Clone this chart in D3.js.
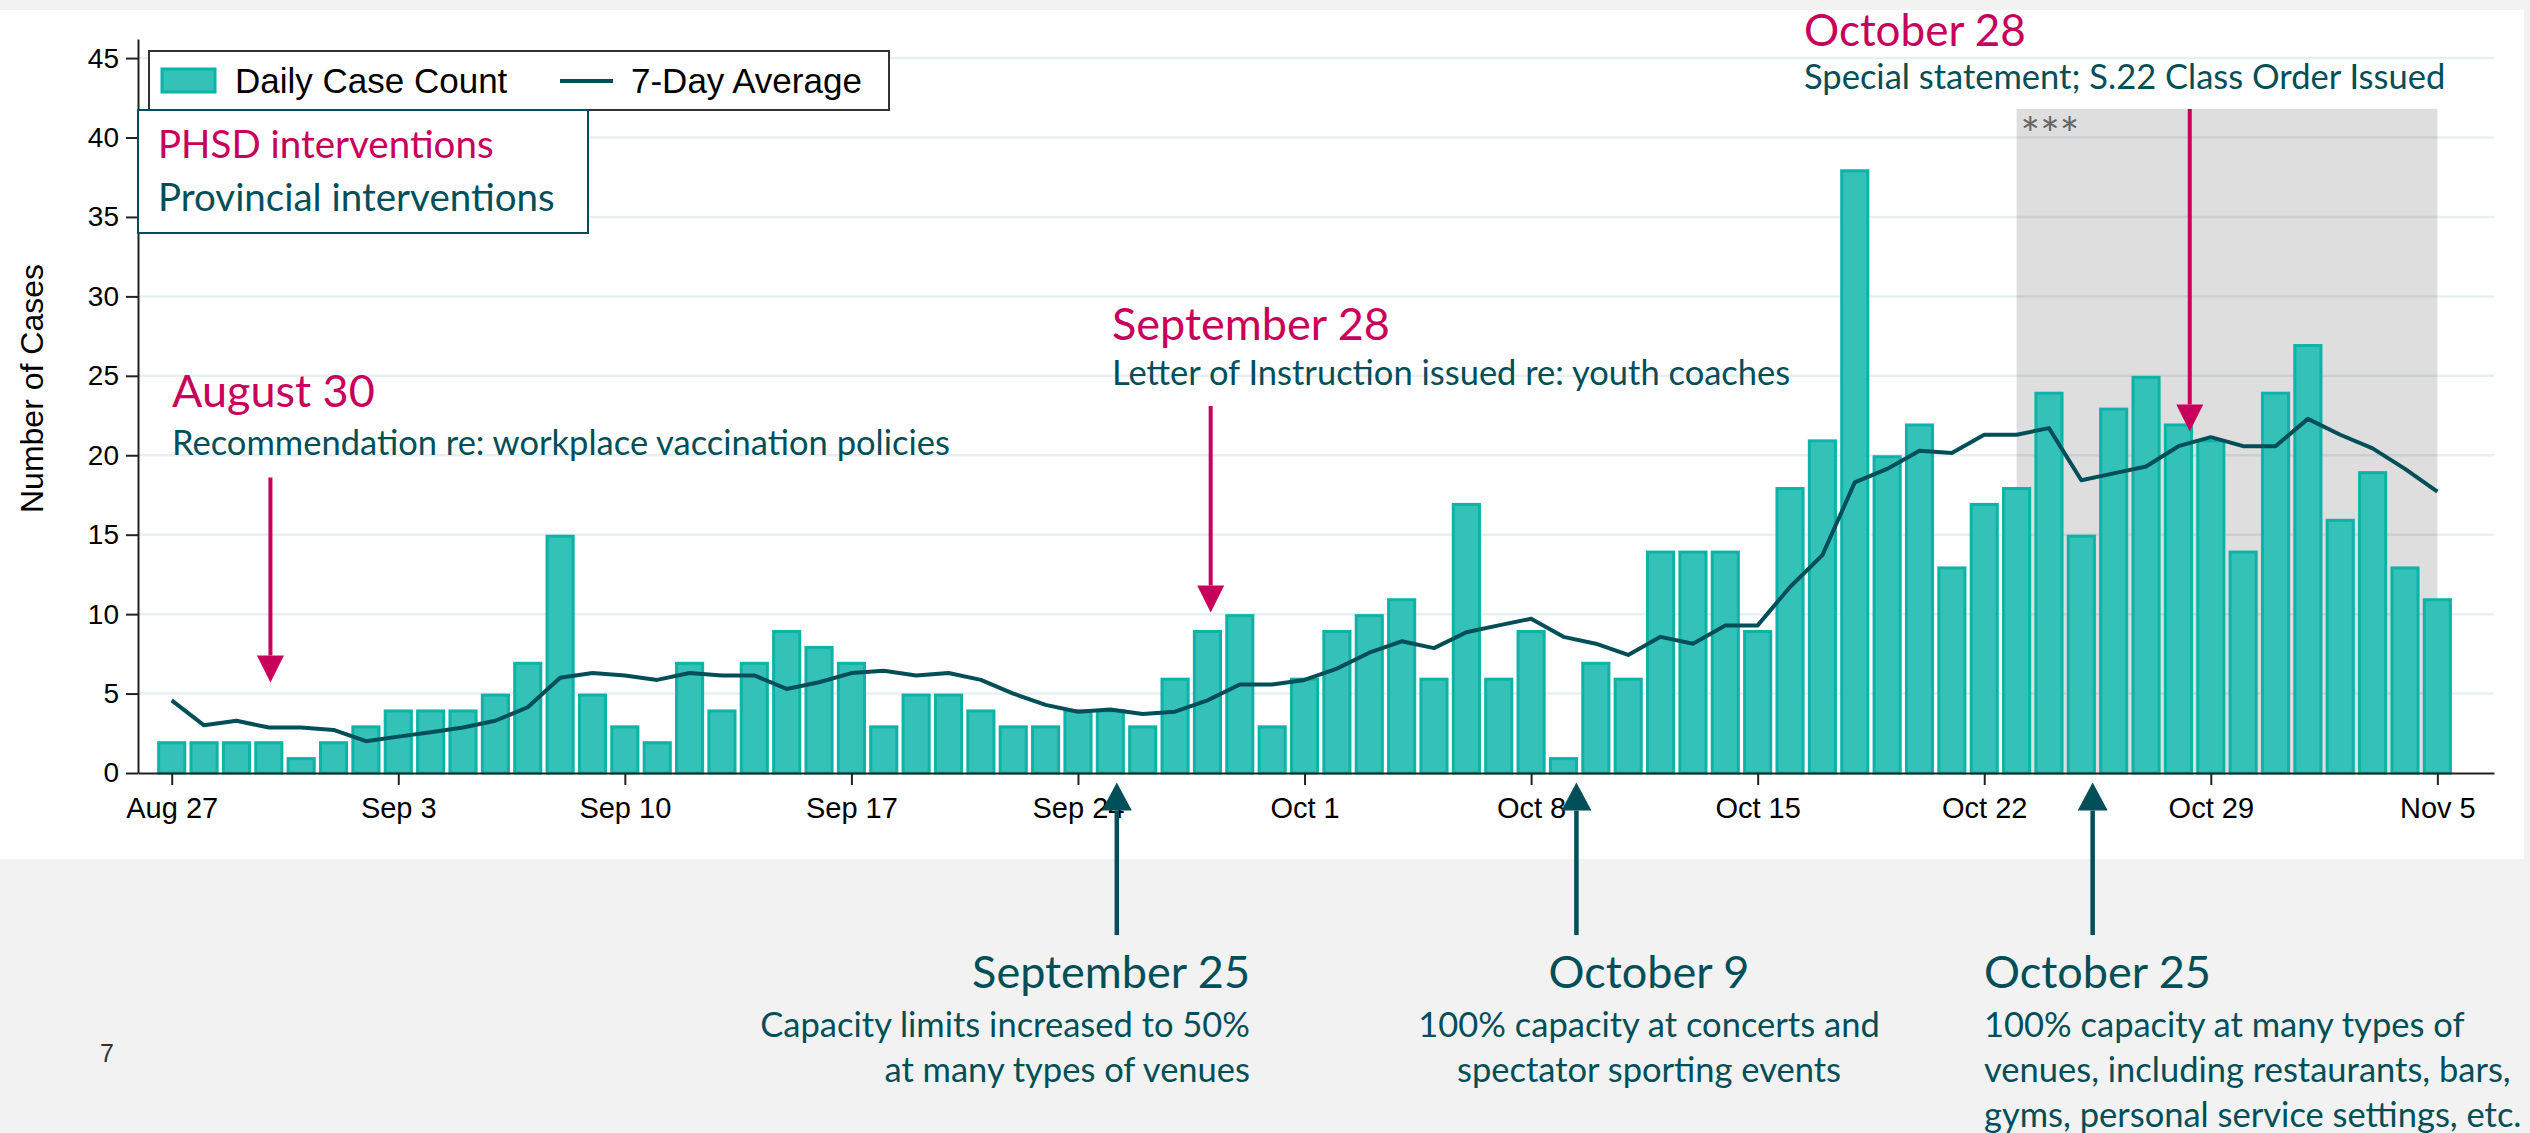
<!DOCTYPE html>
<html lang="en">
<head>
<meta charset="utf-8">
<title>Daily Case Count and 7-Day Average</title>
<script src="https://d3js.org/d3.v7.min.js"></script>
<style>
  body { margin: 0; background: #f2f2f2; }
  svg { display: block; }
</style>
</head>
<body>
<script>
// daily cases, Aug 27 to Nov 5
var days = [
  "2021-08-27","2021-08-28","2021-08-29","2021-08-30","2021-08-31","2021-09-01","2021-09-02",
  "2021-09-03","2021-09-04","2021-09-05","2021-09-06","2021-09-07","2021-09-08","2021-09-09",
  "2021-09-10","2021-09-11","2021-09-12","2021-09-13","2021-09-14","2021-09-15","2021-09-16",
  "2021-09-17","2021-09-18","2021-09-19","2021-09-20","2021-09-21","2021-09-22","2021-09-23",
  "2021-09-24","2021-09-25","2021-09-26","2021-09-27","2021-09-28","2021-09-29","2021-09-30",
  "2021-10-01","2021-10-02","2021-10-03","2021-10-04","2021-10-05","2021-10-06","2021-10-07",
  "2021-10-08","2021-10-09","2021-10-10","2021-10-11","2021-10-12","2021-10-13","2021-10-14",
  "2021-10-15","2021-10-16","2021-10-17","2021-10-18","2021-10-19","2021-10-20","2021-10-21",
  "2021-10-22","2021-10-23","2021-10-24","2021-10-25","2021-10-26","2021-10-27","2021-10-28",
  "2021-10-29","2021-10-30","2021-10-31","2021-11-01","2021-11-02","2021-11-03","2021-11-04",
  "2021-11-05"];
var cases = [2,2,2,2,1,2,3, 4,4,4,5,7,15,5, 3,2,7,4,7,9,8, 7,3,5,5,4,3,3,
  4,4,3,6,9,10,3, 6,9,10,11,6,17,6, 9,1,7,6,14,14,14, 9,18,21,38,20,22,13,
  17,18,24,15,23,25,22, 21,14,24,27,16,19,13, 11];
var avg7 = [4.57,3.00,3.29,2.86,2.86,2.71,2.00, 2.29,2.57,2.86,3.29,4.14,6.00,6.29,
  6.14,5.86,6.29,6.14,6.14,5.29,5.71, 6.29,6.43,6.14,6.29,5.86,5.00,4.29,
  3.86,4.00,3.71,3.86,4.57,5.57,5.57, 5.86,6.57,7.57,8.29,7.86,8.86,9.29,
  9.71,8.57,8.14,7.43,8.57,8.14,9.29, 9.29,11.71,13.71,18.29,19.14,20.29,20.14,
  21.29,21.29,21.71,18.43,18.86,19.29,20.57, 21.14,20.57,20.57,22.29,21.29,20.43,19.14,
  17.71];
var tickDays = ["2021-08-27","2021-09-03","2021-09-10","2021-09-17","2021-09-24","2021-10-01",
  "2021-10-08","2021-10-15","2021-10-22","2021-10-29","2021-11-05"];
var yTicks = [0,5,10,15,20,25,30,35,40,45];
var shadeDays = ["2021-10-23","2021-11-05"];
var shadeTop = 41.8;

// interventions: pink = PHSD (down arrows), teal = provincial (up arrows)
var phsd = [
  {day: "2021-08-30", shift: 0.05, from: 18.6, to: 5.7},
  {day: "2021-09-28", shift: 0.1, from: 23.1, to: 10.1},
  {day: "2021-10-28", shift: 0.35, from: 41.8, to: 21.5}
];
var prov = [
  {day: "2021-09-25", shift: 0.2, from: -10.2, to: -0.6},
  {day: "2021-10-09", shift: 0.4, from: -10.2, to: -0.6},
  {day: "2021-10-25", shift: 0.35, from: -10.2, to: -0.6}
];

var pink = "#c8005c", teal = "#004f58", barFill = "#33c1b8", barLine = "#0db3a7";
var lato = "Lato, 'Open Sans', sans-serif", arial = "'Liberation Sans', Arial, sans-serif";

var parse = d3.utcParse("%Y-%m-%d");
var data = days.map((d, i) => ({date: parse(d), n: cases[i], a: avg7[i]}));

var svg = d3.select("body").append("svg")
  .attr("width", 2530)
  .attr("height", 1133);

svg.append("rect").attr("width", 2530).attr("height", 1133).attr("fill", "#f2f2f2");
svg.append("rect").attr("x", 0).attr("y", 10).attr("width", 2524).attr("height", 849).attr("fill", "#fff");

var x = d3.scaleUtc()
  .domain([d3.utcHour.offset(parse(days[0]), -25), d3.utcHour.offset(parse(days[days.length - 1]), 42)])
  .range([138, 2494]);
var y = d3.scaleLinear().domain([0, 46.2]).range([773, 39]);
var dayW = x(parse(days[1])) - x(parse(days[0]));
var xd = (s, shift) => x(parse(s)) + (shift || 0) * dayW;

// gridlines
svg.append("g").selectAll("line")
  .data(yTicks.slice(1))
  .enter().append("line")
  .attr("x1", 138).attr("x2", 2494)
  .attr("y1", d => y(d)).attr("y2", d => y(d))
  .attr("stroke", "#e8eff2").attr("stroke-width", 2.5);

// shaded period
svg.append("rect")
  .attr("x", xd(shadeDays[0]))
  .attr("y", y(shadeTop))
  .attr("width", xd(shadeDays[1]) - xd(shadeDays[0]))
  .attr("height", y(0) - y(shadeTop))
  .attr("fill", "#000").attr("fill-opacity", 0.13);
svg.append("text")
  .attr("x", xd(shadeDays[0]) + 4).attr("y", y(shadeTop) + 42)
  .attr("font-family", lato).attr("font-size", 46).attr("fill", "#666")
  .text("***");

// bars
var bw = dayW * 0.9 - 3;
svg.append("g").selectAll("rect")
  .data(data)
  .enter().append("rect")
  .attr("x", d => x(d.date) - bw / 2)
  .attr("y", d => y(d.n) + 1.5)
  .attr("width", bw)
  .attr("height", d => y(0) - y(d.n) - 1.5)
  .attr("fill", barFill).attr("stroke", barLine).attr("stroke-width", 3);

// 7-day average
svg.append("path")
  .datum(data)
  .attr("fill", "none").attr("stroke", teal).attr("stroke-width", 4)
  .attr("stroke-linejoin", "round")
  .attr("d", d3.line().x(d => x(d.date)).y(d => y(d.a)));

// axes
var xAxis = svg.append("g")
  .attr("transform", "translate(0," + y(0) + ")")
  .call(d3.axisBottom(x).tickValues(tickDays.map(parse)).tickFormat(d3.utcFormat("%b %-d"))
    .tickSize(12).tickSizeOuter(0).tickPadding(12));
var yAxis = svg.append("g")
  .attr("transform", "translate(138,0)")
  .call(d3.axisLeft(y).tickValues(yTicks).tickSize(12).tickSizeOuter(0).tickPadding(7));
[xAxis, yAxis].forEach(g => {
  g.selectAll("path, line").attr("stroke", "#222").attr("stroke-width", 2);
  g.selectAll("text").attr("font-family", arial).attr("font-size", 29).attr("fill", "#000");
});
yAxis.selectAll("text").attr("font-size", 28);

svg.append("text")
  .attr("transform", "translate(43," + y(24.2) + ") rotate(-90)")
  .attr("text-anchor", "middle")
  .attr("font-family", arial).attr("font-size", 32).attr("fill", "#000")
  .text("Number of Cases");

// arrows
function arrow(g, ax, y1, y2, color, head, hw, lw) {
  var dir = y2 > y1 ? 1 : -1;
  g.append("line")
    .attr("x1", ax).attr("x2", ax)
    .attr("y1", y1).attr("y2", y2 - dir * head)
    .attr("stroke", color).attr("stroke-width", lw);
  g.append("path")
    .attr("d", "M" + (ax - hw / 2) + "," + (y2 - dir * head) + "L" + (ax + hw / 2) + "," + (y2 - dir * head) + "L" + ax + "," + y2 + "Z")
    .attr("fill", color);
}
var arrows = svg.append("g");
phsd.forEach(d => arrow(arrows, xd(d.day, d.shift), y(d.from), y(d.to), pink, 27, 27, 4));
prov.forEach(d => arrow(arrows, xd(d.day, d.shift), y(d.from), y(d.to), teal, 28, 30, 4.5));

// legends
svg.append("rect").attr("x", 149).attr("y", 51).attr("width", 740).attr("height", 59)
  .attr("fill", "#fff").attr("stroke", "#333").attr("stroke-width", 2);
svg.append("rect").attr("x", 162).attr("y", 69).attr("width", 53).attr("height", 23)
  .attr("fill", barFill).attr("stroke", barLine).attr("stroke-width", 3);
svg.append("text").attr("x", 235).attr("y", 93)
  .attr("font-family", arial).attr("font-size", 35).text("Daily Case Count");
svg.append("line").attr("x1", 560).attr("x2", 613).attr("y1", 81).attr("y2", 81)
  .attr("stroke", teal).attr("stroke-width", 4);
svg.append("text").attr("x", 631).attr("y", 93)
  .attr("font-family", arial).attr("font-size", 35).text("7-Day Average");

svg.append("rect").attr("x", 138).attr("y", 110).attr("width", 450).attr("height", 123)
  .attr("fill", "#fff").attr("stroke", teal).attr("stroke-width", 2);
svg.append("text").attr("x", 158).attr("y", 158)
  .attr("font-family", lato).attr("font-size", 38.5).attr("fill", pink).text("PHSD interventions");
svg.append("text").attr("x", 158).attr("y", 211)
  .attr("font-family", lato).attr("font-size", 38.5).attr("fill", teal).text("Provincial interventions");

// annotation texts
var notes = [
  {x: 172, y: 407, size: 45, color: pink, anchor: "start", t: "August 30"},
  {x: 172, y: 455, size: 34.5, color: teal, anchor: "start", t: "Recommendation re: workplace vaccination policies"},
  {x: 1112, y: 340, size: 45, color: pink, anchor: "start", t: "September 28"},
  {x: 1112, y: 385, size: 34.5, color: teal, anchor: "start", t: "Letter of Instruction issued re: youth coaches"},
  {x: 1804, y: 46, size: 44, color: pink, anchor: "start", t: "October 28"},
  {x: 1804, y: 89, size: 34.5, color: teal, anchor: "start", t: "Special statement; S.22 Class Order Issued"},
  {x: 1250, y: 988, size: 45, color: teal, anchor: "end", t: "September 25"},
  {x: 1250, y: 1037, size: 34.5, color: teal, anchor: "end", t: "Capacity limits increased to 50%"},
  {x: 1250, y: 1082, size: 34.5, color: teal, anchor: "end", t: "at many types of venues"},
  {x: 1649, y: 988, size: 45, color: teal, anchor: "middle", t: "October 9"},
  {x: 1649, y: 1037, size: 34.5, color: teal, anchor: "middle", t: "100% capacity at concerts and"},
  {x: 1649, y: 1082, size: 34.5, color: teal, anchor: "middle", t: "spectator sporting events"},
  {x: 1984, y: 988, size: 45, color: teal, anchor: "start", t: "October 25"},
  {x: 1984, y: 1037, size: 34.5, color: teal, anchor: "start", t: "100% capacity at many types of"},
  {x: 1984, y: 1082, size: 34.5, color: teal, anchor: "start", t: "venues, including restaurants, bars,"},
  {x: 1984, y: 1127, size: 34.5, color: teal, anchor: "start", t: "gyms, personal service settings, etc."}
];
svg.append("g").selectAll("text")
  .data(notes)
  .enter().append("text")
  .attr("x", d => d.x).attr("y", d => d.y)
  .attr("text-anchor", d => d.anchor)
  .attr("font-family", lato).attr("font-size", d => d.size)
  .attr("fill", d => d.color)
  .text(d => d.t);

// slide number
svg.append("text").attr("x", 100).attr("y", 1062)
  .attr("font-family", arial).attr("font-size", 25).attr("fill", "#333").text("7");
</script>
</body>
</html>
